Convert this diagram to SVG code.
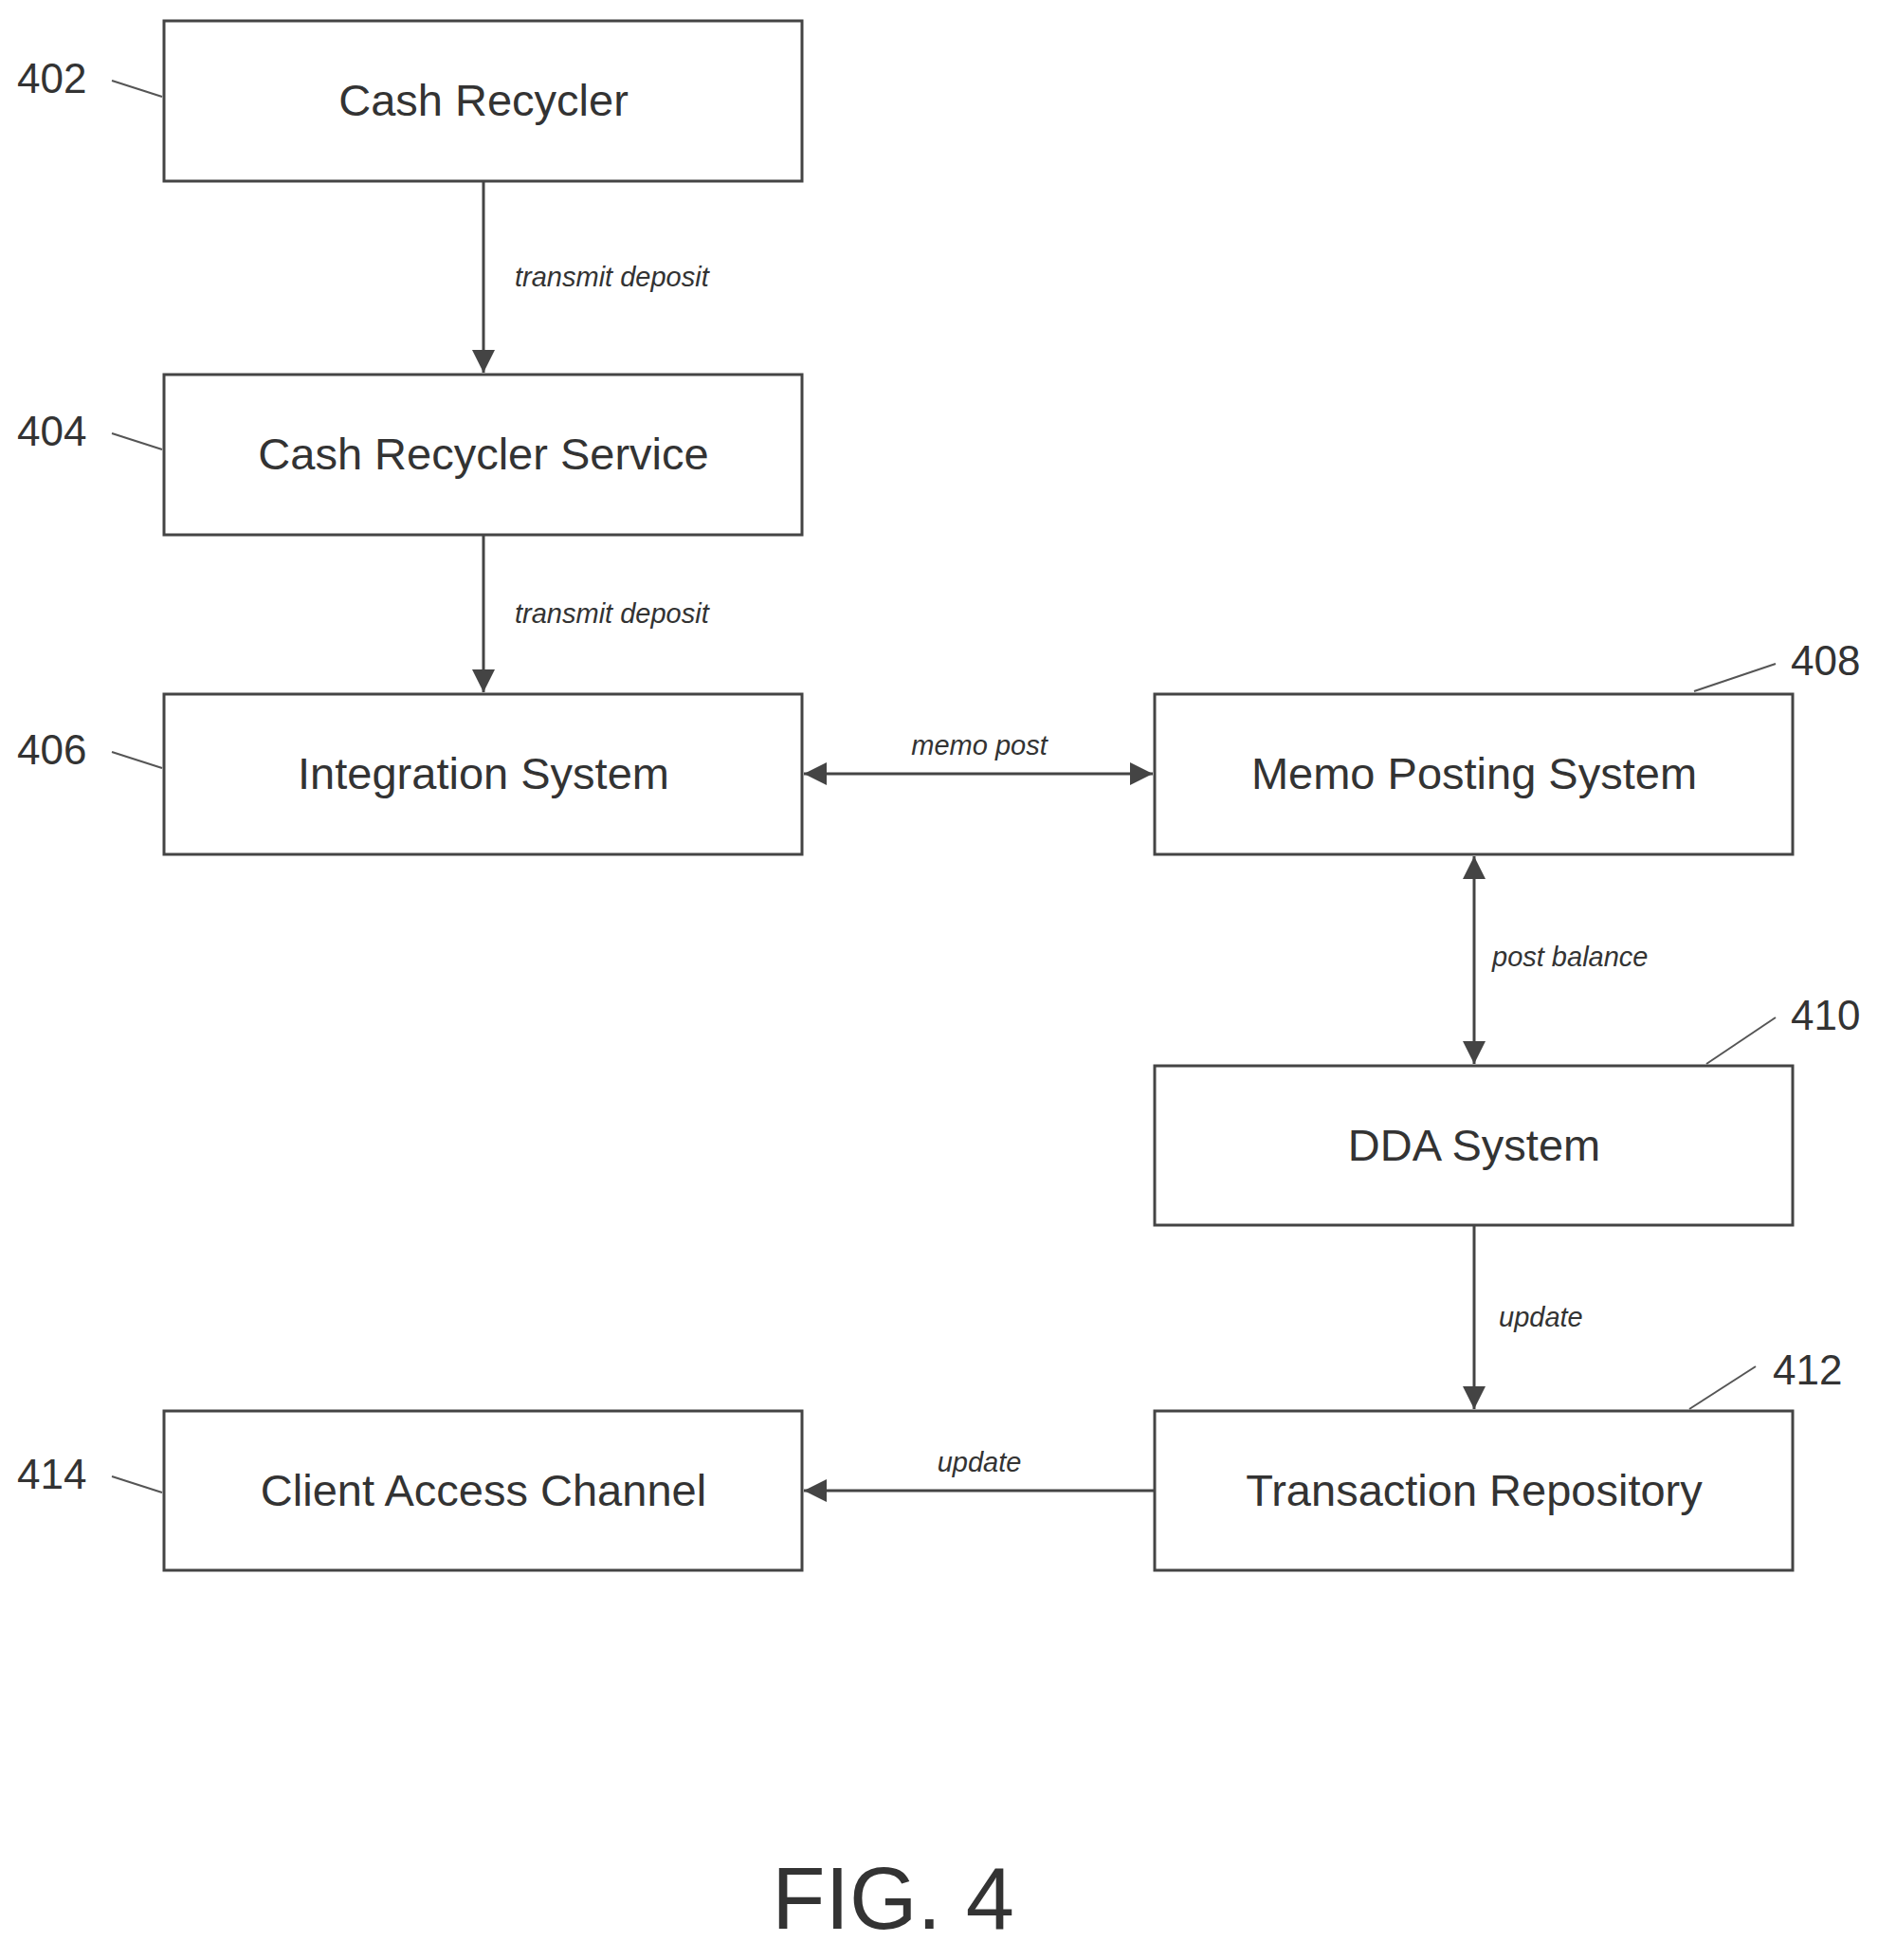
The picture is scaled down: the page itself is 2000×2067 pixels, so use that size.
<svg xmlns="http://www.w3.org/2000/svg" width="2000" height="2067" viewBox="0 0 2000 2067">
<style>
.box{fill:#fff;stroke:#444;stroke-width:3}
.t{font-family:"Liberation Sans",Arial,sans-serif;font-size:47px;fill:#333;text-anchor:middle}
.ref{font-family:"Liberation Sans",Arial,sans-serif;font-size:44px;fill:#333}
.el{font-family:"Liberation Sans",Arial,sans-serif;font-size:29px;font-style:italic;fill:#333}
.ln{stroke:#444;stroke-width:3;fill:none}
.ld{stroke:#555;stroke-width:2;fill:none}
</style>
<defs>
<marker id="ah" viewBox="0 0 10 10" refX="10" refY="5" markerWidth="9" markerHeight="9" markerUnits="userSpaceOnUse" orient="auto-start-reverse"><path d="M0,0 L10,5 L0,10 z" fill="#444"/></marker>
<marker id="a" viewBox="0 0 10 10" refX="10" refY="5" markerWidth="30" markerHeight="24" markerUnits="userSpaceOnUse" orient="auto-start-reverse"><path d="M0,0 L10,5 L0,10 z" fill="#444"/></marker>
</defs>
<rect width="2000" height="2067" fill="#fff"/>
<g id="n402"><rect class="box" x="173" y="22" width="673" height="169"/><text class="t" x="510" y="122">Cash Recycler</text><text class="ref" x="18" y="98">402</text><path class="ld" d="M118,85 L171,102"/></g>
<g id="n404"><rect class="box" x="173" y="395" width="673" height="169"/><text class="t" x="510" y="495">Cash Recycler Service</text><text class="ref" x="18" y="470">404</text><path class="ld" d="M118,457 L171,474"/></g>
<g id="n406"><rect class="box" x="173" y="732" width="673" height="169"/><text class="t" x="510" y="832">Integration System</text><text class="ref" x="18" y="806">406</text><path class="ld" d="M118,793 L171,810"/></g>
<g id="n408"><rect class="box" x="1218" y="732" width="673" height="169"/><text class="t" x="1555" y="832">Memo Posting System</text><text class="ref" x="1889" y="712">408</text><path class="ld" d="M1787,729 L1873,700"/></g>
<g id="n410"><rect class="box" x="1218" y="1124" width="673" height="168"/><text class="t" x="1555" y="1224">DDA System</text><text class="ref" x="1889" y="1086">410</text><path class="ld" d="M1800,1122 L1873,1073"/></g>
<g id="n412"><rect class="box" x="1218" y="1488" width="673" height="168"/><text class="t" x="1555" y="1588">Transaction Repository</text><text class="ref" x="1870" y="1460">412</text><path class="ld" d="M1782,1486 L1852,1441"/></g>
<g id="n414"><rect class="box" x="173" y="1488" width="673" height="168"/><text class="t" x="510" y="1588">Client Access Channel</text><text class="ref" x="18" y="1570">414</text><path class="ld" d="M118,1557 L171,1574"/></g>
<g id="connectors">
<path class="ln" d="M510,192 L510,393" marker-end="url(#a)"/>
<text class="el" x="543" y="302">transmit deposit</text>
<path class="ln" d="M510,565 L510,730" marker-end="url(#a)"/>
<text class="el" x="543" y="657">transmit deposit</text>
<path class="ln" d="M848,816 L1216,816" marker-start="url(#a)" marker-end="url(#a)"/>
<text class="el" x="1033" y="796" text-anchor="middle">memo post</text>
<path class="ln" d="M1555,903 L1555,1122" marker-start="url(#a)" marker-end="url(#a)"/>
<text class="el" x="1574" y="1019">post balance</text>
<path class="ln" d="M1555,1293 L1555,1486" marker-end="url(#a)"/>
<text class="el" x="1581" y="1399">update</text>
<path class="ln" d="M1217,1572 L848,1572" marker-end="url(#a)"/>
<text class="el" x="1033" y="1552" text-anchor="middle">update</text>
</g>
<text x="942" y="2034" font-family="Liberation Sans,Arial,sans-serif" font-size="92" fill="#333" text-anchor="middle">FIG. 4</text>
</svg>
